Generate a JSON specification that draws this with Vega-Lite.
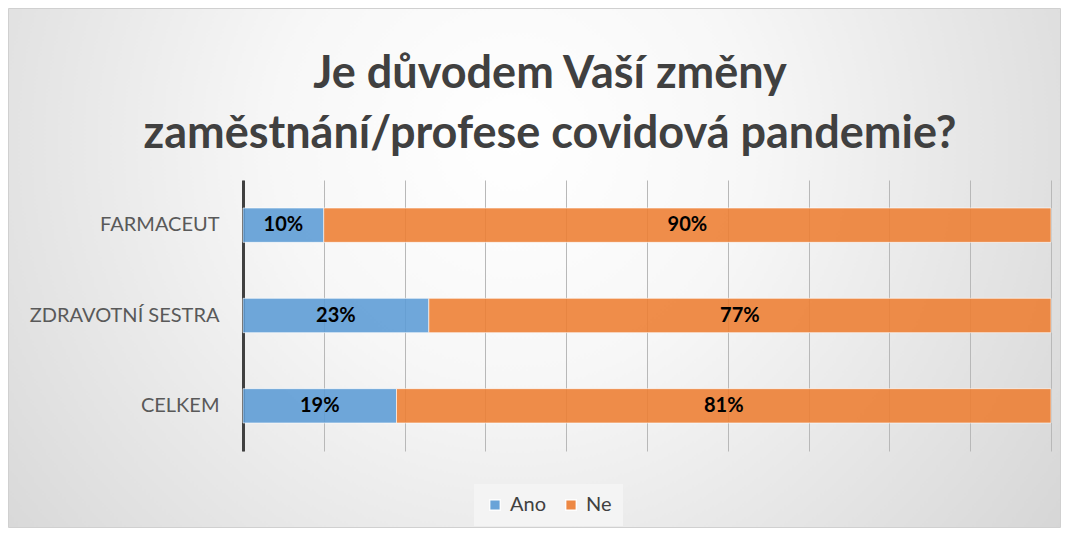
{
  "$schema": "https://vega.github.io/schema/vega-lite/v6.json",
  "width": 1052,
  "height": 519,
  "autosize": {"type": "none"},
  "padding": {"left": 8, "top": 8, "right": 7, "bottom": 8},
  "background": "#ffffff",
  "title": {
    "text": ["Je důvodem Vaší změny", "zaměstnání/profese covidová pandemie?"],
    "anchor": "middle",
    "frame": "group",
    "dx": 16,
    "offset": -185,
    "baseline": "alphabetic",
    "lineHeight": 60,
    "fontSize": 45,
    "font": "Lato",
    "fontWeight": "bold",
    "color": "#404040"
  },
  "data": {
    "values": [
      {"cat": "FARMACEUT", "series": "Ano", "v": 0.10},
      {"cat": "FARMACEUT", "series": "Ne", "v": 0.90},
      {"cat": "ZDRAVOTNÍ SESTRA", "series": "Ano", "v": 0.23},
      {"cat": "ZDRAVOTNÍ SESTRA", "series": "Ne", "v": 0.77},
      {"cat": "CELKEM", "series": "Ano", "v": 0.19},
      {"cat": "CELKEM", "series": "Ne", "v": 0.81}
    ]
  },
  "layer": [
    {
      "mark": {"type": "bar", "fillOpacity": 0.88, "stroke": "#ffffff", "strokeOpacity": 0.6, "strokeWidth": 1},
      "encoding": {
        "y": {
          "field": "cat", "type": "nominal",
          "sort": ["FARMACEUT", "ZDRAVOTNÍ SESTRA", "CELKEM"],
          "scale": {"range": [172, 443], "paddingInner": 0.62, "paddingOuter": 0.31},
          "axis": {"title": null, "offset": -235, "domain": true, "domainColor": "#404040", "domainWidth": 3, "ticks": false, "labelFontSize": 20, "labelColor": "#595959", "labelFont": "Lato", "labelPadding": 24, "labelLimit": 400, "grid": false}
        },
        "x": {
          "field": "v", "type": "quantitative", "stack": "zero",
          "scale": {"domain": [0, 1], "nice": false, "range": [235, 1043]},
          "axis": {"title": null, "orient": "top", "labels": false, "ticks": false, "domain": false, "grid": true, "gridColor": "#b8b8b8", "gridWidth": 1, "values": [0, 0.1, 0.2, 0.3, 0.4, 0.5, 0.6, 0.7, 0.8, 0.9, 1.0]}
        },
        "color": {
          "field": "series", "type": "nominal",
          "scale": {"domain": ["Ano", "Ne"], "range": ["#5b9bd5", "#ed7d31"]},
          "legend": {"title": null, "orient": "none", "legendX": 466, "legendY": 476, "padding": 11, "fillColor": "#f4f4f4", "direction": "horizontal", "symbolType": "square", "symbolSize": 115, "symbolOpacity": 0.9, "labelFontSize": 20, "labelColor": "#404040", "labelFont": "Lato", "labelOffset": 5, "columnPadding": 15}
        },
        "order": {"field": "series", "sort": "ascending"}
      }
    },
    {
      "transform": [
        {"stack": "v", "groupby": ["cat"], "sort": [{"field": "series", "order": "ascending"}], "as": ["s0", "s1"]},
        {"fold": ["s0", "s1"], "as": ["k", "pos"]}
      ],
      "mark": {"type": "text", "font": "Lato", "fontWeight": "bold", "fontSize": 20, "color": "#000000", "baseline": "middle", "align": "center"},
      "encoding": {
        "y": {"field": "cat", "type": "nominal", "sort": ["FARMACEUT", "ZDRAVOTNÍ SESTRA", "CELKEM"]},
        "x": {"field": "pos", "type": "quantitative", "aggregate": "mean", "stack": null},
        "detail": {"field": "series", "type": "nominal"},
        "text": {"field": "v", "type": "quantitative", "format": ".0%"}
      }
    }
  ],
  "config": {
    "view": {
      "stroke": "#d0d0d0",
      "strokeWidth": 1,
      "fill": {"gradient": "radial", "x1": 0.48, "y1": 0.38, "r1": 0, "x2": 0.48, "y2": 0.38, "r2": 0.75, "stops": [{"offset": 0, "color": "#ffffff"}, {"offset": 0.3, "color": "#f7f7f7"}, {"offset": 1, "color": "#cdcdcd"}]}
    }
  }
}
